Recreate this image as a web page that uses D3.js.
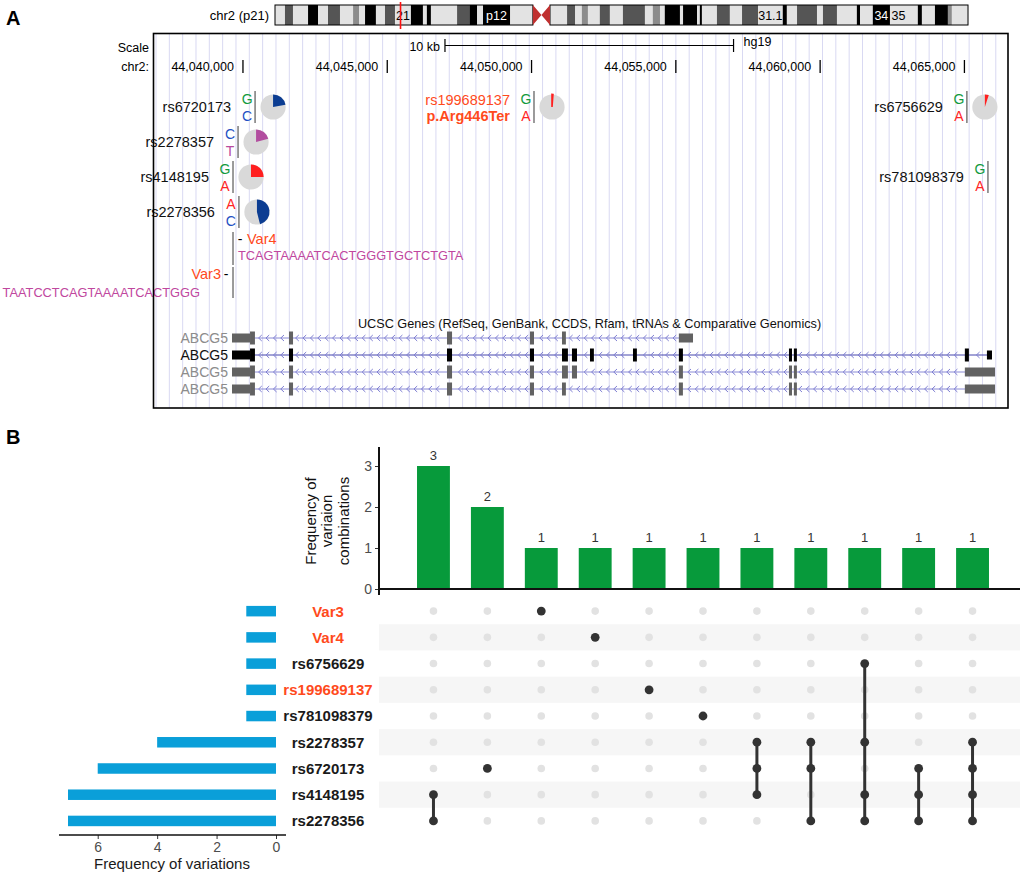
<!DOCTYPE html>
<html>
<head>
<meta charset="utf-8">
<script src="https://cdn.jsdelivr.net/npm/d3@7"></script>
<style>
	body { margin: 0; background: #fff; }
	svg { display: block; font-family: "Liberation Sans", Arial, Helvetica, sans-serif; }
</style>
</head>
<body>
<svg id="fig" width="1024" height="874"></svg>
<script>
// ---------------- panel A data ----------------
// chr2 ideogram bands: [startMb, endMb, stain, label]
const ideoBands = [
	[0, 3.5, "gneg"], [3.5, 6.3, "gpos75"], [6.3, 11.6, "gneg"], [11.6, 15.1, "gpos100"],
	[15.1, 18.6, "gneg"], [18.6, 22.8, "gpos75"], [22.8, 27.4, "gneg"], [27.4, 29.5, "gpos50"],
	[29.5, 31.6, "gneg"], [31.6, 35.4, "gpos100"], [35.4, 38.6, "gneg"], [38.6, 42.1, "gpos75"],
	[42.1, 47.7, "gneg", "21"], [47.7, 51.9, "gpos100"], [51.9, 53.3, "gneg"], [53.3, 54.7, "gpos100"],
	[54.7, 63.9, "gneg"], [63.9, 68.4, "gpos75"], [68.4, 70.9, "gpos100"], [70.9, 73.0, "gneg"],
	[73.0, 82.5, "gpos100", "p12"], [82.5, 90.5, "gneg"], [90.5, 96.5, "acen"], [96.5, 102.5, "gneg"],
	[102.5, 105.3, "gpos75"], [105.3, 107.7, "gneg"], [107.7, 109.8, "gpos50"], [109.8, 114.0, "gneg"],
	[114.0, 117.5, "gpos75"], [117.5, 122.1, "gneg"], [122.1, 129.8, "gpos75"], [129.8, 132.6, "gneg"],
	[132.6, 135.1, "gpos50"], [135.1, 136.8, "gneg"], [136.8, 142.1, "gpos100"], [142.1, 143.2, "gneg"],
	[143.2, 148.1, "gpos100"], [148.1, 149.1, "gneg"], [149.1, 149.8, "gpos100"], [149.8, 155.1, "gneg"],
	[155.1, 159.6, "gpos75"], [159.6, 163.9, "gneg"], [163.9, 169.5, "gpos75"], [169.5, 178.2, "gneg", "31.1"],
	[178.2, 179.6, "gpos100"], [179.6, 183.2, "gneg"], [183.2, 190.2, "gpos75"], [190.2, 192.3, "gneg"],
	[192.3, 197.2, "gpos75"], [197.2, 204.2, "gneg"], [204.2, 205.3, "gpos100"], [205.3, 209.8, "gneg"],
	[209.8, 215.8, "gpos100", "34"], [215.8, 221.8, "gneg", "35"], [221.8, 225.6, "gneg"], [225.6, 227.0, "gpos100"],
	[227.0, 231.6, "gneg"], [231.6, 236.1, "gpos100"], [236.1, 237.5, "gpos50"], [237.5, 243.2, "gneg"]
];
const chrLengthMb = 243.2;
const markerMb = 44.05;

const viewRange = [44036900, 44066510];
const rulerTicks = [44040000, 44045000, 44050000, 44055000, 44060000, 44065000];
const scaleBar = [44047000, 44057000];

const snpNames = ["rs6720173", "rs2278357", "rs4148195", "rs2278356", "rs199689137", "rs6756629", "rs781098379"];
const snpPos = [44040420, 44039830, 44039655, 44039860, 44050085, 44065085, 44065815];
const snpRow = [0, 1, 2, 3, 0, 0, 2];
const snpRef = ["G", "C", "G", "A", "G", "G", "G"];
const snpAlt = ["C", "T", "A", "C", "A", "A", "A"];
const snpAltFreq = [0.22, 0.21, 0.25, 0.46, 0.012, 0.05, null];

const indelNames = ["Var4", "Var3"];
const indelPos = [44039655, 44039655];
const indelSeq = ["TCAGTAAAATCACTGGGTGCTCTGTA", "TAATCCTCAGTAAAATCACTGGG"];

const geneTrackTitle = "UCSC Genes (RefSeq, GenBank, CCDS, Rfam, tRNAs & Comparative Genomics)";
const txNames = ["ABCG5", "ABCG5", "ABCG5", "ABCG5"];
const txCanonical = [false, true, false, false];
const txSpan = [[44039620, 44055595], [44039620, 44065955], [44039620, 44066060], [44039620, 44066060]];
// exons: [start, end, coding?]
const txExons = [
	[[44039620, 44040245, 0], [44040245, 44040415, 1], [44041595, 44041735, 1], [44047070, 44047245, 1],
	 [44049945, 44050085, 1], [44051055, 44051190, 1], [44055105, 44055595, 0]],
	[[44039620, 44040245, 0], [44040245, 44040415, 1], [44041595, 44041735, 1], [44047070, 44047245, 1],
	 [44049945, 44050085, 1], [44051055, 44051260, 1], [44051400, 44051575, 1], [44052025, 44052160, 1],
	 [44053515, 44053650, 1], [44055105, 44055245, 1], [44058920, 44059025, 1], [44059090, 44059195, 1],
	 [44065015, 44065155, 1], [44065780, 44065955, 0]],
	[[44039620, 44040245, 0], [44040245, 44040415, 1], [44041595, 44041735, 1], [44047070, 44047245, 1],
	 [44049945, 44050085, 1], [44051055, 44051260, 1], [44051400, 44051575, 1], [44055105, 44055245, 1],
	 [44058920, 44059025, 1], [44059090, 44059195, 1], [44065015, 44066060, 0]],
	[[44039620, 44040245, 0], [44040245, 44040415, 1], [44041595, 44041735, 1], [44047070, 44047245, 1],
	 [44049945, 44050085, 1], [44051055, 44051190, 1], [44055105, 44055245, 1], [44058920, 44059025, 1],
	 [44059090, 44059195, 1], [44065015, 44066060, 0]]
];

// ---------------- panel B data ----------------
const setNames = ["Var3", "Var4", "rs6756629", "rs199689137", "rs781098379", "rs2278357", "rs6720173", "rs4148195", "rs2278356"];
const setSize = [1, 1, 1, 1, 1, 4, 6, 7, 7];
const highlighted = ["Var3", "Var4", "rs199689137"];
const comboFreq = [3, 2, 1, 1, 1, 1, 1, 1, 1, 1, 1];
const comboMembers = [
	["rs4148195", "rs2278356"],
	["rs6720173"],
	["Var3"],
	["Var4"],
	["rs199689137"],
	["rs781098379"],
	["rs2278357", "rs6720173", "rs4148195"],
	["rs2278357", "rs6720173", "rs2278356"],
	["rs6756629", "rs2278357", "rs4148195", "rs2278356"],
	["rs6720173", "rs4148195", "rs2278356"],
	["rs2278357", "rs6720173", "rs4148195", "rs2278356"]
];
const freqTicks = [0, 1, 2, 3];
const sizeTicks = [0, 2, 4, 6];

// ---------------- styles ----------------
const stainColor = { gneg: "#e3e3e3", gpos50: "#8c8c8c", gpos75: "#555555", gpos100: "#000000" };
const alleleColor = { G: "#119a3d", C: "#2350c4", T: "#b94aa0", A: "#ff2525" };
const pieColor = { C: "#0c3d92", T: "#b24d9f", A: "#ff1f1f" };
const varRed = "#ff4a1c";

const svg = d3.select("#fig");

// ---------------- ideogram ----------------
const ideoX = d3.scaleLinear().domain([0, chrLengthMb]).range([275, 968]);
const ideoTop = 5, ideoH = 20;
const gIdeo = svg.append("g");
const cen = ideoBands.find((d) => d[2] === "acen");

gIdeo.selectAll(".band")
	.data(ideoBands.filter((d) => d[2] !== "acen"))
	.join("rect")
	.attr("class", "band")
	.attr("x", (d) => ideoX(d[0]))
	.attr("width", (d) => ideoX(d[1]) - ideoX(d[0]) + 0.3)
	.attr("y", ideoTop)
	.attr("height", ideoH)
	.attr("fill", (d) => stainColor[d[2]]);

gIdeo.selectAll(".arm")
	.data([[0, cen[0]], [cen[1], chrLengthMb]])
	.join("rect")
	.attr("class", "arm")
	.attr("x", (d) => ideoX(d[0]))
	.attr("width", (d) => ideoX(d[1]) - ideoX(d[0]))
	.attr("y", ideoTop)
	.attr("height", ideoH)
	.attr("fill", "none")
	.attr("stroke", "#000")
	.attr("stroke-width", 1);

{
	const x0 = ideoX(cen[0]), x1 = ideoX(cen[1]), xc = (x0 + x1) / 2;
	const yb = ideoTop + ideoH, ym = ideoTop + ideoH / 2;
	gIdeo.append("path")
		.attr("d", `M${x0},${ideoTop}L${xc},${ym}L${x0},${yb}Z M${x1},${ideoTop}L${xc},${ym}L${x1},${yb}Z`)
		.attr("fill", "#c0302f");
}

gIdeo.selectAll(".bandlabel")
	.data(ideoBands.filter((d) => d[3]))
	.join("text")
	.attr("class", "bandlabel")
	.attr("x", (d) => ideoX((d[0] + d[1]) / 2))
	.attr("y", ideoTop + ideoH / 2)
	.attr("dy", "0.36em")
	.attr("text-anchor", "middle")
	.attr("font-size", 12.5)
	.attr("fill", (d) => (d[2] === "gneg" ? "#000" : "#fff"))
	.text((d) => d[3]);

gIdeo.append("text")
	.attr("x", 269)
	.attr("y", ideoTop + ideoH / 2)
	.attr("dy", "0.36em")
	.attr("text-anchor", "end")
	.attr("font-size", 13)
	.text("chr2 (p21)");

gIdeo.append("line")
	.attr("x1", ideoX(markerMb)).attr("x2", ideoX(markerMb))
	.attr("y1", 2).attr("y2", 29)
	.attr("stroke", "#ff1010").attr("stroke-width", 1.6);

// ---------------- panel A browser view ----------------
const box = { x0: 153.5, x1: 1008, y0: 33.5, y1: 408 };
const gx = d3.scaleLinear().domain(viewRange).range([box.x0, box.x1]);
const gA = svg.append("g");

gA.append("rect")
	.attr("x", box.x0).attr("y", box.y0)
	.attr("width", box.x1 - box.x0).attr("height", box.y1 - box.y0)
	.attr("fill", "#fff");

// light vertical guidelines
gA.selectAll(".guide")
	.data(d3.range(box.x0 + 2.5, box.x1 - 1, 13.33))
	.join("line")
	.attr("class", "guide")
	.attr("x1", (d) => d).attr("x2", (d) => d)
	.attr("y1", box.y0).attr("y2", box.y1)
	.attr("stroke", "#d9d9f2")
	.attr("stroke-width", 1);

// ruler
gA.append("text").attr("x", 149).attr("y", 48).attr("dy", "0.35em")
	.attr("text-anchor", "end").attr("font-size", 12.5).text("Scale");
gA.append("text").attr("x", 149).attr("y", 67).attr("dy", "0.35em")
	.attr("text-anchor", "end").attr("font-size", 12.5).text("chr2:");

const sb0 = gx(scaleBar[0]), sb1 = gx(scaleBar[1]);
gA.append("path")
	.attr("d", `M${sb0},39V52M${sb0},45.5H${sb1}M${sb1},39V52`)
	.attr("stroke", "#000").attr("fill", "none").attr("stroke-width", 1.2);
gA.append("text").attr("x", sb0 - 5).attr("y", 47).attr("dy", "0.35em")
	.attr("text-anchor", "end").attr("font-size", 12.5).text("10 kb");
gA.append("text").attr("x", sb1 + 10).attr("y", 42).attr("dy", "0.35em")
	.attr("font-size", 12.5).text("hg19");

const fmt = d3.format(",");
const rt = gA.selectAll(".rtick").data(rulerTicks).join("g").attr("class", "rtick");
rt.append("line")
	.attr("x1", (d) => gx(d)).attr("x2", (d) => gx(d))
	.attr("y1", 60).attr("y2", 73)
	.attr("stroke", "#000").attr("stroke-width", 1.3);
rt.append("text")
	.attr("x", (d) => gx(d) - 9).attr("y", 67).attr("dy", "0.35em")
	.attr("text-anchor", "end").attr("font-size", 12.5)
	.text((d) => fmt(d));

// SNP rows with allele frequency pies
const rowY = [107, 142, 177, 212];
const snps = snpNames.map((name, i) => ({
	name, pos: snpPos[i], row: snpRow[i], ref: snpRef[i], alt: snpAlt[i], freq: snpAltFreq[i]
}));
const pie = d3.arc().innerRadius(0).outerRadius(12.6);
const sg = gA.selectAll(".snp").data(snps).join("g").attr("class", "snp")
	.attr("transform", (d) => `translate(${gx(d.pos)},${rowY[d.row]})`);

sg.append("line").attr("x1", 0).attr("x2", 0).attr("y1", -16).attr("y2", 16)
	.attr("stroke", "#7a7a7a").attr("stroke-width", 1.5);
sg.append("text").attr("x", -8).attr("y", -8).attr("dy", "0.36em").attr("text-anchor", "middle")
	.attr("font-size", 14).attr("fill", (d) => alleleColor[d.ref]).text((d) => d.ref);
sg.append("text").attr("x", -8).attr("y", 9).attr("dy", "0.36em").attr("text-anchor", "middle")
	.attr("font-size", 14).attr("fill", (d) => alleleColor[d.alt]).text((d) => d.alt);

sg.filter((d) => d.name !== "rs199689137")
	.append("text").attr("x", -24).attr("y", 0).attr("dy", "0.36em").attr("text-anchor", "end")
	.attr("font-size", 14.5).attr("fill", "#111").text((d) => d.name);
const hot = sg.filter((d) => d.name === "rs199689137");
hot.append("text").attr("x", -24).attr("y", -7).attr("dy", "0.36em").attr("text-anchor", "end")
	.attr("font-size", 14.5).attr("fill", varRed).text((d) => d.name);
hot.append("text").attr("x", -24).attr("y", 9).attr("dy", "0.36em").attr("text-anchor", "end")
	.attr("font-size", 14.5).attr("font-weight", "bold").attr("fill", varRed).text("p.Arg446Ter");

const pg = sg.filter((d) => d.freq != null).append("g").attr("transform", "translate(18,0)");
pg.append("circle").attr("r", 12.6).attr("fill", "#d9d9d9");
pg.append("path")
	.attr("d", (d) => pie({ startAngle: 0, endAngle: Math.max(d.freq * 2 * Math.PI, 0.06) }))
	.attr("fill", (d) => pieColor[d.alt])
	.attr("stroke", (d) => (d.freq < 0.03 ? pieColor[d.alt] : "none"))
	.attr("stroke-width", 1.6);

// indels
const indelY = [[232, 265, 239, 255], [267, 298, 274, 292]];
indelNames.forEach((name, i) => {
	const lx = gx(indelPos[i]);
	const [ya, yb, yl, ys] = indelY[i];
	gA.append("line").attr("x1", lx).attr("x2", lx).attr("y1", ya).attr("y2", yb)
		.attr("stroke", "#7a7a7a").attr("stroke-width", 1.5);
	const right = i === 0;
	gA.append("text").attr("x", right ? lx + 7 : lx - 7).attr("y", yl).attr("dy", "0.36em")
		.attr("text-anchor", "middle").attr("font-size", 14).text("-");
	gA.append("text").attr("x", right ? lx + 14 : lx - 12).attr("y", yl).attr("dy", "0.36em")
		.attr("text-anchor", right ? "start" : "end").attr("font-size", 14.5).attr("fill", varRed).text(name);
	gA.append("text").attr("x", right ? lx + 5 : lx - 33).attr("y", ys).attr("dy", "0.36em")
		.attr("text-anchor", right ? "start" : "end").attr("font-size", 12.8).attr("fill", "#c0479e")
		.text(indelSeq[i]);
});

// gene track
gA.append("text").attr("x", 589.5).attr("y", 323).attr("dy", "0.36em")
	.attr("text-anchor", "middle").attr("font-size", 12.7).attr("fill", "#111").text(geneTrackTitle);

const txY = [338, 355, 372, 389];
txNames.forEach((name, i) => {
	const y = txY[i];
	const canon = txCanonical[i];
	const exonFill = canon ? "#000" : "#626262";
	const g = gA.append("g");
	g.append("text").attr("x", 228).attr("y", y).attr("dy", "0.36em").attr("text-anchor", "end")
		.attr("font-size", 14).attr("fill", canon ? "#111" : "#8c8c8c").text(name);
	const xs = gx(txSpan[i][0]), xe = gx(txSpan[i][1]);
	g.append("line").attr("x1", xs).attr("x2", xe).attr("y1", y).attr("y2", y)
		.attr("stroke", canon ? "#4646ad" : "#8a8ad6").attr("stroke-width", 1);
	const exPx = txExons[i].map((e) => [gx(e[0]), gx(e[1])]);
	const chev = d3.range(xs + 6, xe - 3, 7.4)
		.filter((x) => !exPx.some(([a, b]) => x > a - 3 && x < b + 3));
	g.selectAll(".chev").data(chev).join("path")
		.attr("d", (x) => `M${x + 1.6},${y - 3}L${x - 1.6},${y}L${x + 1.6},${y + 3}`)
		.attr("fill", "none").attr("stroke", "#7f7fd2").attr("stroke-width", 1);
	g.selectAll(".exon").data(txExons[i]).join("rect")
		.attr("x", (e) => gx(e[0]))
		.attr("width", (e) => Math.max(gx(e[1]) - gx(e[0]), 2.5))
		.attr("y", (e) => y - (e[2] ? 6.5 : 4.5))
		.attr("height", (e) => (e[2] ? 13 : 9))
		.attr("fill", exonFill);
});

gA.append("rect")
	.attr("x", box.x0).attr("y", box.y0)
	.attr("width", box.x1 - box.x0).attr("height", box.y1 - box.y0)
	.attr("fill", "none").attr("stroke", "#000").attr("stroke-width", 1.6);

// ---------------- panel B: upset plot ----------------
const gB = svg.append("g");
const xB = d3.scaleBand().domain(d3.range(comboFreq.length)).range([396, 1010]).padding(0.39);
const yFreq = d3.scaleLinear().domain([0, 3]).range([589, 466]);
const rowB = d3.scaleBand().domain(setNames).range([598, 834]);
const xSize = d3.scaleLinear().domain([0, 7]).range([276, 68]);
const matX0 = 379, matX1 = 1020;

// intersection bars
gB.selectAll(".cbar").data(comboFreq).join("rect").attr("class", "cbar")
	.attr("x", (d, i) => xB(i)).attr("width", xB.bandwidth())
	.attr("y", (d) => yFreq(d)).attr("height", (d) => yFreq(0) - yFreq(d))
	.attr("fill", "#079a3b");
gB.selectAll(".clab").data(comboFreq).join("text").attr("class", "clab")
	.attr("x", (d, i) => xB(i) + xB.bandwidth() / 2).attr("y", (d) => yFreq(d) - 6)
	.attr("text-anchor", "middle").attr("font-size", 13).attr("fill", "#333").text((d) => d);

const yAx = gB.append("g").attr("transform", `translate(${matX0},0)`)
	.call(d3.axisLeft(yFreq).tickValues(freqTicks).tickSize(4).tickPadding(3).tickFormat(d3.format("d")));
yAx.select(".domain").remove();
yAx.selectAll("line").attr("stroke", "#333");
yAx.selectAll("text").attr("font-size", 14).attr("fill", "#4d4d4d")
	.attr("font-family", '"Liberation Sans", Arial, sans-serif');
gB.append("line").attr("x1", matX0).attr("x2", matX0).attr("y1", 447).attr("y2", 595)
	.attr("stroke", "#111").attr("stroke-width", 2);
gB.append("line").attr("x1", matX0).attr("x2", matX1).attr("y1", yFreq(0)).attr("y2", yFreq(0))
	.attr("stroke", "#111").attr("stroke-width", 2);

gB.append("text")
	.attr("transform", `translate(327,521) rotate(-90)`)
	.attr("text-anchor", "middle").attr("font-size", 15).attr("fill", "#111")
	.selectAll("tspan").data(["Frequency of", "variaion", "combinations"]).join("tspan")
	.attr("x", 0).attr("y", (d, i) => (i - 1) * 16.5 + 5).text((d) => d);

// matrix
gB.selectAll(".stripe").data(setNames.filter((d, i) => i % 2 === 1)).join("rect").attr("class", "stripe")
	.attr("x", matX0).attr("width", matX1 - matX0)
	.attr("y", (d) => rowB(d)).attr("height", rowB.bandwidth())
	.attr("fill", "#f6f6f6");

const cy = (name) => rowB(name) + rowB.bandwidth() / 2;
const cx = (i) => xB(i) + xB.bandwidth() / 2;
const cells = d3.cross(d3.range(comboFreq.length), setNames);
gB.selectAll(".cell").data(cells).join("circle").attr("class", "cell")
	.attr("cx", (d) => cx(d[0])).attr("cy", (d) => cy(d[1])).attr("r", 3.8)
	.attr("fill", "#e2e2e2");

comboMembers.forEach((members, i) => {
	const ys = members.map(cy);
	if (members.length > 1) {
		gB.append("line").attr("x1", cx(i)).attr("x2", cx(i))
			.attr("y1", d3.min(ys)).attr("y2", d3.max(ys))
			.attr("stroke", "#333").attr("stroke-width", 3);
	}
	gB.selectAll(null).data(ys).join("circle")
		.attr("cx", cx(i)).attr("cy", (d) => d).attr("r", 4.4).attr("fill", "#333");
});

// set size bars
gB.selectAll(".sbar").data(setNames).join("rect").attr("class", "sbar")
	.attr("x", (d, i) => xSize(setSize[i])).attr("width", (d, i) => xSize(0) - xSize(setSize[i]))
	.attr("y", (d) => cy(d) - 5.2).attr("height", 10.5)
	.attr("fill", "#0a9fd9");

gB.selectAll(".slab").data(setNames).join("text").attr("class", "slab")
	.attr("x", 328).attr("y", (d) => cy(d)).attr("dy", "0.36em")
	.attr("text-anchor", "middle").attr("font-size", 15).attr("font-weight", "bold")
	.attr("fill", (d) => (highlighted.includes(d) ? varRed : "#1a1a1a"))
	.text((d) => d);

const xAx = gB.append("g").attr("transform", "translate(0,835)")
	.call(d3.axisBottom(xSize).tickValues(sizeTicks).tickSize(4).tickPadding(3).tickFormat(d3.format("d")));
xAx.select(".domain").remove();
xAx.selectAll("line").attr("stroke", "#333");
xAx.selectAll("text").attr("font-size", 14).attr("fill", "#4d4d4d")
	.attr("font-family", '"Liberation Sans", Arial, sans-serif');
gB.append("line").attr("x1", 59).attr("x2", 286).attr("y1", 835).attr("y2", 835)
	.attr("stroke", "#111").attr("stroke-width", 1.6);
gB.append("text").attr("x", 172).attr("y", 869).attr("text-anchor", "middle")
	.attr("font-size", 15).attr("fill", "#1a1a1a").text("Frequency of variations");

// panel letters
svg.append("text").attr("x", 6).attr("y", 25).attr("font-size", 20).attr("font-weight", "bold").text("A");
svg.append("text").attr("x", 6).attr("y", 444).attr("font-size", 20).attr("font-weight", "bold").text("B");
</script>
</body>
</html>
